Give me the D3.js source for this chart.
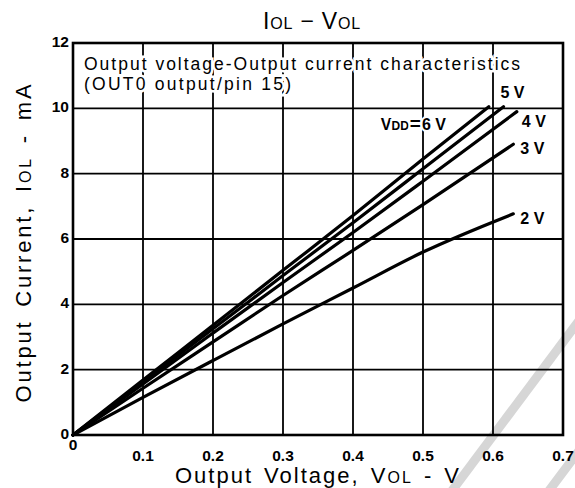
<!DOCTYPE html>
<html>
<head>
<meta charset="utf-8">
<script src="https://cdn.jsdelivr.net/npm/d3@7"></script>
<style>
  html, body { margin: 0; padding: 0; background: #fff; }
  svg { display: block; }
  text { font-family: "Liberation Sans", Arial, sans-serif; fill: #000; }
</style>
</head>
<body>
<div id="chart"></div>
<script>
// ---------------- data ----------------
const xTicks = [0, 0.1, 0.2, 0.3, 0.4, 0.5, 0.6, 0.7];
const yTicks = [0, 2, 4, 6, 8, 10, 12];
const seriesNames = ["6V", "5V", "4V", "3V", "2V"];
const volt6 = [0, 0.1, 0.2, 0.3, 0.4, 0.5, 0.594];
const cur6  = [0, 1.68, 3.36, 5.04, 6.72, 8.45, 10.05];
const volt5 = [0, 0.1, 0.2, 0.3, 0.4, 0.5, 0.615];
const cur5  = [0, 1.63, 3.25, 4.88, 6.5, 8.15, 10.05];
const volt4 = [0, 0.1, 0.2, 0.3, 0.4, 0.5, 0.634];
const cur4  = [0, 1.56, 3.12, 4.67, 6.2, 7.77, 9.9];
const volt3 = [0, 0.1, 0.2, 0.3, 0.4, 0.5, 0.629];
const cur3  = [0, 1.43, 2.85, 4.27, 5.65, 7.05, 8.9];
const volt2 = [0, 0.1, 0.2, 0.3, 0.4, 0.5, 0.629];
const cur2  = [0, 1.15, 2.28, 3.4, 4.5, 5.6, 6.77];
const noteLines = ["Output voltage-Output current characteristics", "(OUT0 output/pin 15)"];

// -------------- layout ----------------
const W = 575, H = 488;
const L = 73, R = 563, T = 43, B = 435;

const svg = d3.select("#chart").append("svg")
  .attr("width", W).attr("height", H);

const x = d3.scaleLinear().domain([0, 0.7]).range([L, R]);
const y = d3.scaleLinear().domain([0, 12]).range([B, T]);

// watermark bands (scan artefact)
const wm = svg.append("g").attr("stroke", "#d6d6d6").attr("stroke-width", 9).attr("fill", "none");
wm.append("line").attr("x1", 451).attr("y1", 492).attr("x2", 590).attr("y2", 306);
wm.append("line").attr("x1", 548).attr("y1", 492).attr("x2", 590).attr("y2", 436);

// grid
const grid = svg.append("g").attr("stroke", "#000").attr("stroke-width", 1.8);
grid.selectAll("line.v").data(xTicks.filter(d => d > 0 && d < 0.7)).join("line")
  .attr("x1", d => x(d)).attr("x2", d => x(d)).attr("y1", T).attr("y2", B);
grid.selectAll("line.h").data(yTicks.filter(d => d > 0 && d < 12)).join("line")
  .attr("y1", d => y(d)).attr("y2", d => y(d)).attr("x1", L).attr("x2", R);

// note text with white halo that interrupts the grid
const note = svg.append("g").attr("font-size", 17.5);
note.append("text").attr("x", 84).attr("y", 70).text(noteLines[0])
  .attr("textLength", 436).attr("lengthAdjust", "spacing")
  .attr("stroke", "#fff").attr("stroke-width", 5).attr("paint-order", "stroke");
note.append("text").attr("x", 84).attr("y", 90).text(noteLines[1])
  .attr("textLength", 207).attr("lengthAdjust", "spacing")
  .attr("stroke", "#fff").attr("stroke-width", 5).attr("paint-order", "stroke");

// frame
svg.append("rect").attr("x", L).attr("y", T).attr("width", R - L).attr("height", B - T)
  .attr("fill", "none").attr("stroke", "#000").attr("stroke-width", 2.6);

// data lines
const series = [
  { name: seriesNames[0], v: volt6, i: cur6 },
  { name: seriesNames[1], v: volt5, i: cur5 },
  { name: seriesNames[2], v: volt4, i: cur4 },
  { name: seriesNames[3], v: volt3, i: cur3 },
  { name: seriesNames[4], v: volt2, i: cur2 }
];
const line = d3.line().x(d => x(d[0])).y(d => y(d[1])).curve(d3.curveMonotoneX);
svg.append("g").selectAll("path").data(series).join("path")
  .attr("d", s => line(s.v.map((v, k) => [v, s.i[k]])))
  .attr("fill", "none").attr("stroke", "#000").attr("stroke-width", 3.2)
  .attr("stroke-linecap", "round");

// series labels (offset from each line end)
const labelOffsets = { "6V": [-108, 23], "5V": [-3, -9], "4V": [5, 15], "3V": [7, 10], "2V": [7, 10] };
const lab = svg.append("g").attr("font-size", 16).attr("font-weight", "bold");
series.forEach(s => {
  const n = s.v.length - 1;
  const px = x(s.v[n]) + labelOffsets[s.name][0];
  const py = y(s.i[n]) + labelOffsets[s.name][1];
  const t = lab.append("text").attr("x", px).attr("y", py)
    .attr("stroke", "#fff").attr("stroke-width", 4).attr("paint-order", "stroke");
  if (s.name === "6V") {
    t.append("tspan").text("V");
    t.append("tspan").attr("font-size", 12).text("DD");
    t.append("tspan").attr("dx", 1).attr("font-size", 19).text("=");
    t.append("tspan").attr("dx", 1).text("6 V");
  } else {
    t.text(s.name.replace("V", " V"));
  }
});

// tick labels
const tl = svg.append("g").attr("font-size", 15.5).attr("font-weight", "bold");
tl.selectAll("text.x").data(xTicks).join("text")
  .attr("x", d => x(d)).attr("y", d => d === 0 ? 450 : 461)
  .attr("text-anchor", "middle")
  .text(d => d === 0 ? "0" : d.toFixed(1));
tl.selectAll("text.y").data(yTicks).join("text")
  .attr("x", L - 4).attr("y", d => y(d) + 4)
  .attr("text-anchor", "end")
  .text(d => d);

// title
const title = svg.append("text").attr("x", 312).attr("y", 29).attr("text-anchor", "middle")
  .attr("font-size", 23).attr("letter-spacing", 0.8);
title.append("tspan").text("I");
title.append("tspan").attr("font-size", 16).text("OL");
title.append("tspan").text("  \u2212  V");
title.append("tspan").attr("font-size", 16).text("OL");

// x axis title
const xt = svg.append("text").attr("x", 318).attr("y", 483).attr("text-anchor", "middle")
  .attr("font-size", 22).attr("letter-spacing", 2).attr("word-spacing", 3);
xt.append("tspan").text("Output Voltage, V");
xt.append("tspan").attr("font-size", 16).text("OL");
xt.append("tspan").text(" - V");

// y axis title
const yt = svg.append("text").attr("transform", "translate(31,242) rotate(-90)")
  .attr("text-anchor", "middle").attr("font-size", 22).attr("letter-spacing", 2.8).attr("word-spacing", 4);
yt.append("tspan").text("Output Current, I");
yt.append("tspan").attr("font-size", 16).text("OL");
yt.append("tspan").text(" - mA");
</script>
</body>
</html>
